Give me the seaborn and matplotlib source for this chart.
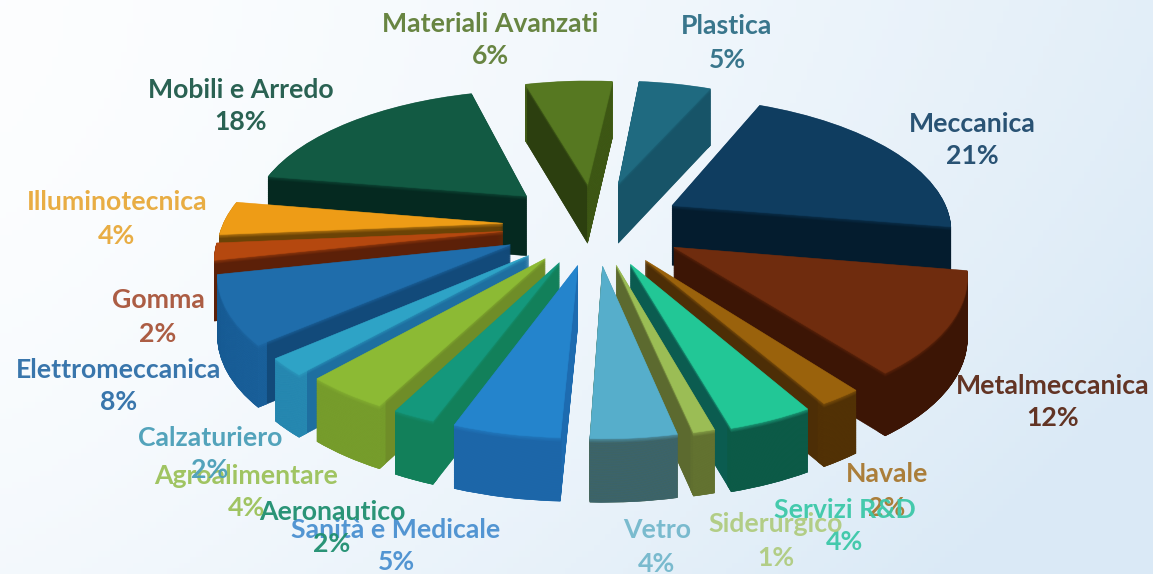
import numpy as np
import matplotlib
matplotlib.use("Agg")
import matplotlib.pyplot as plt
from matplotlib.colors import to_rgb
from matplotlib.patches import Wedge
from matplotlib.transforms import Transform
import seaborn as sns

sectors = ["Plastica", "Meccanica", "Metalmeccanica", "Navale", "Servizi R&D", "Siderurgico",
           "Vetro", "Sanità e Medicale", "Aeronautico", "Agroalimentare", "Calzaturiero",
           "Elettromeccanica", "Gomma", "Illuminotecnica", "Mobili e Arredo", "Materiali Avanzati"]
shares = [5, 21, 12, 2, 4, 1, 4, 5, 2, 4, 2, 8, 2, 4, 18, 6]

top_colors = ["#1f6a80", "#0f3d60", "#6f2c0e", "#9a620c", "#22c796", "#9bbd55",
              "#56aecb", "#2484cc", "#14987c", "#8cba34", "#2ea3c6",
              "#1f6dab", "#b5480f", "#ee9c16", "#125a43", "#567821"]
wall_colors = ["#175468", "#041c2e", "#3c1505", "#4d2e06", "#0b5c50", "#5c6a2f",
               "#5c6a2f", "#1d6bb0", "#12805a", "#6f8d28", "#1e6fa0",
               "#124a7a", "#5c2008", "#6b4306", "#052920", "#2c3f0f"]
rim_colors = ["#175468", "#041c2e", "#3c1505", "#553405", "#0e5a46", "#667632",
              "#34637b", "#1c66a8", "#12805a", "#7aa32e", "#2a92b8",
              "#1d68a6", "#5c2008", "#6b4306", "#052920", "#4d6b1c"]
label_colors = ["#2f6f86", "#1f4a6d", "#5c2a18", "#a87830", "#3cc8a8", "#b0cc80",
                "#74b8cc", "#4a90d0", "#1f8f70", "#9cc25a", "#4a9fb8",
                "#2f6fa8", "#a8543a", "#e8a93a", "#1f5a4a", "#607f38"]
label_xy = [(727, 43), (972, 140), (1053, 402), (887, 491), (845, 526), (776, 541),
            (657, 547), (396, 546), (332, 528), (246, 492), (210, 454),
            (119, 386), (158, 317), (117, 219), (241, 106), (490, 40)]
explode = [0.34, 0.32, 0.32, 0.31, 0.31, 0.30, 0.30, 0.30, 0.30, 0.30, 0.32,
           0.33, 0.33, 0.33, 0.34, 0.33]

CX, CY = 595, 225
SCALE_X, SCALE_Y = 280, 131
PERSPECTIVE = 0.157
WALL = 60
START = 84.1
LAYERS = 90


class TiltedDisc(Transform):
    """Lays the flat pie on a receding plane and lowers it by a fraction of the wall height."""
    input_dims = output_dims = 2
    is_separable = False
    has_inverse = False

    def __init__(self, drop):
        super().__init__()
        self.drop = drop

    def transform_non_affine(self, values):
        values = np.asarray(values, float)
        w = 1 + PERSPECTIVE * values[:, 1]
        x = CX + SCALE_X * values[:, 0] / w
        wall = WALL * (1 - 0.045 * values[:, 1]) * self.drop
        y = CY - SCALE_Y * values[:, 1] / w + wall
        return np.column_stack([x, y])


def bevel(base, top, layer):
    """Eases the uppermost wall layers towards the colour of the top face."""
    pixels_below_top = (LAYERS - layer) * WALL / LAYERS
    mix = max(0.0, 0.55 - 0.14 * pixels_below_top)
    return tuple((1 - mix) * np.array(to_rgb(base)) + mix * np.array(to_rgb(top)))


sns.set_theme(style="white")
plt.rcParams["font.family"] = ["Lato", "DejaVu Sans"]

fig = plt.figure(figsize=(11.53, 5.74), dpi=100)
ax = fig.add_axes([0, 0, 1, 1])

# Pale blue wash that brightens towards the left of the canvas
gx, gy = np.meshgrid(np.linspace(0, 1, 200), np.linspace(0, 1, 100))
wash = np.clip(0.75 * gx ** 1.4 + 0.25 * gy ** 2 + 0.2 * gx * gy, 0, 1)
pale = np.array([0.99, 0.995, 1.0])
blue = np.array([0.855, 0.915, 0.965])
ax.imshow(pale + wash[..., None] * (blue - pale), extent=(0, 1153, 574, 0), aspect="auto", zorder=0)

# Paint order runs from the far side of the pie to the near side
total = sum(shares)
cum = np.cumsum([0] + shares) / total * 360
mids = np.radians(START - (cum[:-1] + cum[1:]) / 2)
order = np.argsort(np.argsort(-np.sin(mids)))

top_palette = sns.color_palette(top_colors)


def style(patch, index, drop, layer, lift=0.0):
    patch.set_transform(TiltedDisc(drop) + ax.transData)
    patch.set_edgecolor(patch.get_facecolor())
    patch.set_linewidth(0.4)
    patch.set_clip_on(False)
    patch.set_zorder(2 + order[index] + (layer + lift) / (LAYERS + 2))


for layer in range(LAYERS + 1):
    drop = 1 - layer / LAYERS
    if layer == LAYERS:
        wedges, _ = ax.pie(shares, explode=explode, colors=top_palette, startangle=START,
                           counterclock=False, radius=1.0)
        for i, wedge in enumerate(wedges):
            style(wedge, i, drop, layer)
        continue

    # Solid slice in the radial wall colour, then a thin band along the arc in the rim colour
    walls = [bevel(c, t, layer) for c, t in zip(wall_colors, top_colors)]
    rims = [bevel(c, t, layer) for c, t in zip(rim_colors, top_colors)]
    wedges, _ = ax.pie(shares, explode=explode, colors=walls, startangle=START,
                       counterclock=False, radius=1.0)
    for i, wedge in enumerate(wedges):
        style(wedge, i, drop, layer)
    bands, _ = ax.pie(shares, explode=explode, colors=rims, startangle=START,
                      counterclock=False, radius=1.0, wedgeprops={"width": 0.03})
    for i, band in enumerate(bands):
        style(band, i, drop, layer, lift=0.3)

    # The clockwise face of the far slice catches the light
    far = sectors.index("Materiali Avanzati")
    theta_end = START - cum[far + 1]
    mid = mids[far]
    sliver = Wedge((explode[far] * np.cos(mid), explode[far] * np.sin(mid)), 1.0,
                   theta_end, theta_end + 0.6, facecolor=rims[far])
    ax.add_patch(sliver)
    style(sliver, far, drop, layer, lift=0.6)

ax.set_aspect("auto")
ax.set_xlim(0, 1153)
ax.set_ylim(574, 0)
ax.axis("off")

for i, (name, share, color, (tx, ty)) in enumerate(zip(sectors, shares, label_colors, label_xy)):
    ax.text(tx, ty, f"{name}\n{share}%", ha="center", va="center", color=color,
            fontsize=19.2, fontweight="bold", linespacing=1.45, zorder=200 + i, alpha=0.95)

fig.savefig("out.png", dpi=100)
